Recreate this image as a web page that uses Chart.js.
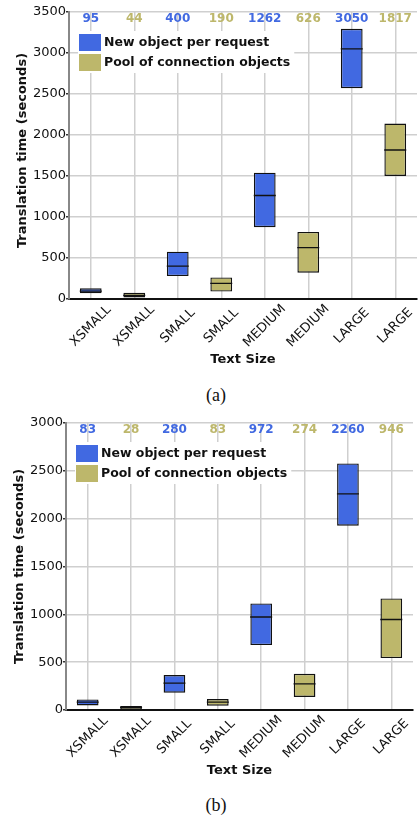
<!DOCTYPE html>
<html>
<head>
<meta charset="utf-8">
<script src="https://cdn.jsdelivr.net/npm/chart.js@4.4.1/dist/chart.umd.min.js"></script>
<style>
  html, body { margin: 0; padding: 0; background: #fff; }
  body { width: 419px; height: 819px; position: relative; overflow: hidden; }
  canvas { position: absolute; left: 0; }
  #chartA { top: 0; }
  #chartB { top: 411px; }
  .cap {
    position: absolute; left: 166px; width: 100px; text-align: center;
    font-family: 'Liberation Serif', 'Times New Roman', serif; font-size: 18px;
    line-height: 20px; color: #111;
  }
</style>
</head>
<body>
<canvas id="chartA" width="419" height="372"></canvas>
<div class="cap" style="top:385px">(a)</div>
<canvas id="chartB" width="419" height="372"></canvas>
<div class="cap" style="top:795px">(b)</div>
<script>
// Categories: each text size appears twice, once per translation strategy
const sizeLabels = ['XSMALL', 'XSMALL', 'SMALL', 'SMALL', 'MEDIUM', 'MEDIUM', 'LARGE', 'LARGE'];
const seriesNames = ['New object per request', 'Pool of connection objects'];
const seriesColors = ['#4169E1', '#BDB76B'];
const yTitle = 'Translation time (seconds)';
const xTitle = 'Text Size';

// (a) translation time, seconds: box low / box high / median per text size
const newLowA = [70, 280, 875, 2570];
const newHighA = [130, 577, 1540, 3295];
const newMedA = [95, 400, 1262, 3050];
const poolLowA = [18, 90, 320, 1500];
const poolHighA = [76, 263, 818, 2140];
const poolMedA = [44, 190, 626, 1817];
const yMaxA = 3500;

// (b) translation time, seconds
const newLowB = [48, 181, 679, 1926];
const newHighB = [111, 366, 1114, 2577];
const newMedB = [83, 280, 972, 2260];
const poolLowB = [4, 45, 136, 543];
const poolHighB = [42, 115, 379, 1166];
const poolMedB = [28, 83, 274, 946];
const yMaxB = 3000;

const yStep = 500;
const FONT = '"DejaVu Sans", sans-serif';

// place a series' values on every other category, starting at `start`
function spread(values, start) {
  const out = new Array(sizeLabels.length).fill(null);
  values.forEach((v, k) => { out[start + 2 * k] = v; });
  return out;
}
function ranges(lows, highs) {
  return lows.map((l, k) => [l, highs[k]]);
}

// median labels along the top, rotated category labels, y title and the in-plot legend
const overlay = {
  id: 'overlay',
  afterDraw(chart, args, opts) {
    const { ctx, chartArea, scales: { x } } = chart;
    ctx.save();

    // median values above each box
    ctx.font = 'bold 12px ' + FONT;
    ctx.textAlign = 'center';
    ctx.textBaseline = 'middle';
    chart.data.datasets.forEach(ds => {
      if (ds.type !== 'line') return;
      ds.data.forEach((v, i) => {
        if (v == null) return;
        ctx.fillStyle = ds.labelColor;
        ctx.fillText(String(v), x.getPixelForValue(i), chartArea.top + 6.5);
      });
    });

    // category labels, rotated 45 degrees and centred under each tick
    ctx.font = '13px ' + FONT;
    ctx.fillStyle = '#111';
    chart.data.labels.forEach((lab, i) => {
      ctx.save();
      ctx.translate(x.getPixelForValue(i), chartArea.bottom + 27);
      ctx.rotate(-Math.PI / 4);
      ctx.fillText(lab, 0, 0);
      ctx.restore();
    });

    // vertical axis title
    ctx.save();
    ctx.font = 'bold 13px ' + FONT;
    ctx.translate(opts.titleX, (chartArea.top + chartArea.bottom) / 2 + opts.titleShift);
    ctx.rotate(-Math.PI / 2);
    ctx.fillText(yTitle, 0, 0);
    ctx.restore();

    // legend
    const bars = chart.data.datasets.filter(ds => ds.type === 'bar');
    const sx = chartArea.left + 10, sy = chartArea.top + 22;
    const sw = 22, sh = 17, gap = 20;
    ctx.font = 'bold 12.5px ' + FONT;
    ctx.textAlign = 'left';
    const textW = Math.max(...bars.map(ds => ctx.measureText(ds.label).width));
    ctx.fillStyle = '#fff';
    ctx.fillRect(sx - 1, sy - 3, sw + 4 + textW + 4, gap * (bars.length - 1) + sh + 5);
    bars.forEach((ds, k) => {
      const y = sy + k * gap;
      ctx.fillStyle = ds.backgroundColor;
      ctx.fillRect(sx, y, sw, sh);
      ctx.fillStyle = '#111';
      ctx.fillText(ds.label, sx + sw + 3, y + sh / 2 + 0.5);
    });
    ctx.restore();
  }
};

function makeChart(id, p) {
  const barCommon = {
    type: 'bar', borderColor: '#111', borderWidth: 1.4, borderSkipped: false,
    grouped: false, categoryPercentage: 1, barPercentage: 0.5, order: 1
  };
  const medCommon = {
    type: 'line', showLine: false, pointStyle: 'line', pointRadius: 11,
    pointBorderWidth: 1.3, pointBorderColor: '#111', borderColor: '#111', order: 0
  };
  return new Chart(document.getElementById(id), {
    type: 'bar',
    data: {
      labels: sizeLabels,
      datasets: [
        Object.assign({}, barCommon, { label: seriesNames[0], data: spread(ranges(p.newLow, p.newHigh), 0), backgroundColor: seriesColors[0] }),
        Object.assign({}, barCommon, { label: seriesNames[1], data: spread(ranges(p.poolLow, p.poolHigh), 1), backgroundColor: seriesColors[1] }),
        Object.assign({}, medCommon, { label: 'median ' + seriesNames[0], data: spread(p.newMed, 0), labelColor: seriesColors[0] }),
        Object.assign({}, medCommon, { label: 'median ' + seriesNames[1], data: spread(p.poolMed, 1), labelColor: seriesColors[1] })
      ]
    },
    options: {
      responsive: false,
      animation: false,
      events: [],
      layout: { autoPadding: false, padding: { top: 12, right: p.padRight, left: 0, bottom: 0 } },
      plugins: {
        legend: { display: false },
        tooltip: { enabled: false },
        overlay: { titleX: p.titleX, titleShift: p.titleShift }
      },
      scales: {
        x: {
          type: 'category', offset: true,
          grid: { offset: false, color: '#cfcfcf', lineWidth: 1.5, drawTicks: false },
          border: { display: true, color: '#111', width: 2 },
          ticks: { display: false },
          title: { display: true, text: xTitle, color: '#111', font: { family: FONT, size: 13, weight: 'bold' }, padding: { top: 0, bottom: 4.5 } },
          afterFit(scale) { scale.height = 73; }
        },
        y: {
          type: 'linear', min: 0, max: p.yMax,
          ticks: { stepSize: yStep, color: '#111', padding: 0, font: { family: FONT, size: 13 }, callback: v => String(v) },
          grid: { color: '#cfcfcf', lineWidth: 1.5, tickLength: 3, tickColor: '#333' },
          border: { display: true, color: '#888', width: 2 },
          afterFit(scale) { scale.width = p.axisWidth; }
        }
      }
    },
    plugins: [overlay]
  });
}

makeChart('chartA', {
  newLow: newLowA, newHigh: newHighA, newMed: newMedA,
  poolLow: poolLowA, poolHigh: poolHighA, poolMed: poolMedA,
  yMax: yMaxA, axisWidth: 69, padRight: 2, titleX: 23, titleShift: -5
});
makeChart('chartB', {
  newLow: newLowB, newHigh: newHighB, newMed: newMedB,
  poolLow: poolLowB, poolHigh: poolHighB, poolMed: poolMedB,
  yMax: yMaxB, axisWidth: 66, padRight: 6, titleX: 20, titleShift: 0
});
</script>
</body>
</html>
